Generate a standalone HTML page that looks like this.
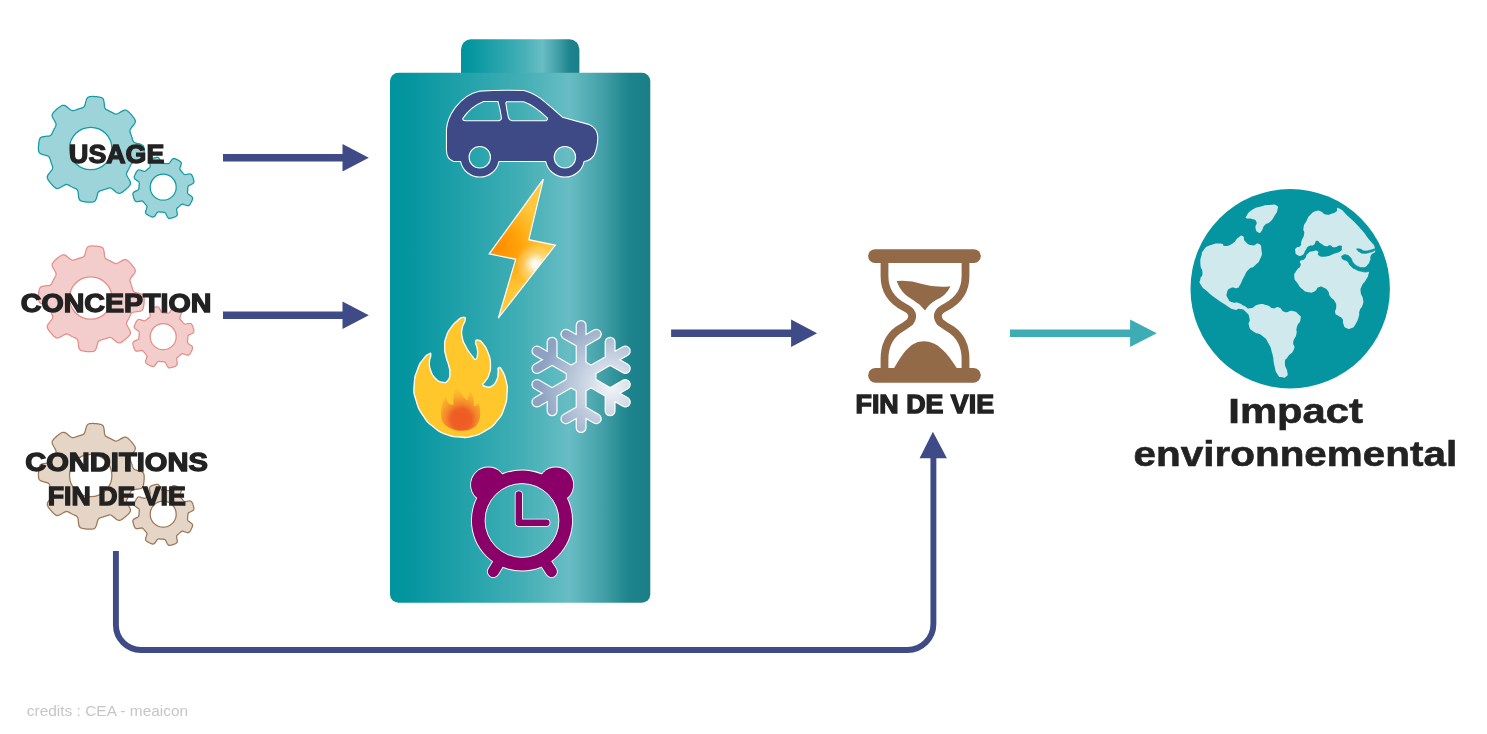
<!DOCTYPE html>
<html><head><meta charset="utf-8"><title>Diagram</title>
<style>
html,body{margin:0;padding:0;background:#fff;}
body{width:1487px;height:734px;overflow:hidden;font-family:"Liberation Sans",sans-serif;}
svg{display:block;transform:translateZ(0);will-change:transform}
text{font-family:"Liberation Sans",sans-serif;}
.b{font-weight:bold;fill:#222222;stroke:#222222;stroke-width:1.3px;stroke-linejoin:miter;stroke-miterlimit:3;paint-order:stroke}
.b2{stroke-width:0.6px}
</style></head><body>
<svg width="1487" height="734" viewBox="0 0 1487 734">
<defs>
<linearGradient id="bat" x1="0" y1="0" x2="1" y2="0">
<stop offset="0" stop-color="#00949d"/>
<stop offset="0.08" stop-color="#0596a0"/>
<stop offset="0.33" stop-color="#28a4ac"/>
<stop offset="0.50" stop-color="#42aeb5"/>
<stop offset="0.69" stop-color="#68bdc4"/>
<stop offset="0.82" stop-color="#429fa7"/>
<stop offset="0.92" stop-color="#1d838c"/>
<stop offset="1" stop-color="#1b7f88"/>
</linearGradient>
<radialGradient id="boltg" gradientUnits="userSpaceOnUse" cx="497" cy="246" r="50">
<stop offset="0" stop-color="#ff8c00"/>
<stop offset="0.45" stop-color="#ffa30a"/>
<stop offset="0.8" stop-color="#ffbd2c"/>
<stop offset="1" stop-color="#ffc83c"/>
</radialGradient>
<radialGradient id="bolth" gradientUnits="userSpaceOnUse" cx="535.5" cy="264" r="20">
<stop offset="0" stop-color="#ffffff" stop-opacity="1"/>
<stop offset="0.2" stop-color="#ffffff" stop-opacity="0.85"/>
<stop offset="0.6" stop-color="#fff3d0" stop-opacity="0.35"/>
<stop offset="1" stop-color="#ffffff" stop-opacity="0"/>
</radialGradient>
<radialGradient id="snow" gradientUnits="userSpaceOnUse" cx="611" cy="387" r="72">
<stop offset="0" stop-color="#f2f5f9"/>
<stop offset="0.4" stop-color="#c9d4e3"/>
<stop offset="1" stop-color="#8da2c1"/>
</radialGradient>
<radialGradient id="fire" gradientUnits="userSpaceOnUse" cx="295" cy="598" r="150">
<stop offset="0" stop-color="#ee5a24"/>
<stop offset="0.36" stop-color="#ef5f26"/>
<stop offset="0.52" stop-color="#f4832a"/>
<stop offset="0.78" stop-color="#f9a92c"/>
<stop offset="1" stop-color="#fdbe2c"/>
</radialGradient>
</defs>

<!-- gears -->
<g fill="#9cd4d9" stroke="#109ba5" stroke-width="1.25" fill-rule="evenodd"><path d="M91.3,96.5 L92.0,96.4 L92.7,96.4 L93.4,96.4 L94.1,96.5 L94.8,96.5 L95.5,96.6 L96.1,96.6 L96.8,96.7 L97.5,96.8 L98.2,96.9 L98.9,97.0 L99.6,97.1 L100.2,97.3 L100.9,97.4 L101.6,97.7 L102.2,98.0 L102.8,98.5 L103.3,99.2 L103.7,100.3 L104.0,101.8 L104.2,103.5 L104.4,105.2 L104.5,106.7 L104.8,107.7 L105.2,108.5 L105.6,109.0 L106.0,109.4 L106.5,109.7 L107.0,109.9 L107.5,110.2 L108.0,110.4 L108.5,110.6 L109.0,110.9 L109.5,111.1 L110.0,111.4 L110.5,111.6 L111.0,111.9 L111.5,112.1 L112.0,112.4 L112.5,112.7 L112.9,112.9 L113.4,113.2 L113.9,113.4 L114.4,113.7 L115.0,113.9 L115.5,114.0 L116.2,114.1 L117.0,113.9 L118.0,113.5 L119.3,112.8 L120.8,111.9 L122.3,111.1 L123.6,110.4 L124.7,110.2 L125.6,110.1 L126.4,110.3 L127.0,110.7 L127.6,111.0 L128.1,111.5 L128.7,111.9 L129.2,112.4 L129.7,112.9 L130.1,113.4 L130.6,113.9 L131.1,114.4 L131.5,114.9 L132.0,115.5 L132.4,116.0 L132.8,116.6 L133.3,117.1 L133.7,117.7 L134.1,118.2 L134.4,118.8 L134.8,119.4 L135.1,120.1 L135.3,120.7 L135.3,121.5 L135.2,122.4 L134.7,123.5 L133.9,124.7 L132.8,126.0 L131.7,127.4 L130.8,128.5 L130.3,129.5 L130.0,130.2 L129.9,130.9 L130.0,131.5 L130.1,132.0 L130.3,132.6 L130.4,133.1 L130.6,133.6 L130.8,134.1 L131.0,134.7 L131.2,135.2 L131.4,135.7 L131.5,136.2 L131.7,136.8 L131.9,137.3 L132.0,137.8 L132.2,138.3 L132.3,138.9 L132.5,139.4 L132.7,139.9 L132.8,140.5 L133.1,141.0 L133.4,141.5 L133.8,142.0 L134.5,142.5 L135.5,142.9 L136.9,143.3 L138.6,143.7 L140.2,144.2 L141.6,144.7 L142.6,145.3 L143.3,145.9 L143.6,146.6 L143.9,147.2 L144.0,147.9 L144.1,148.6 L144.1,149.3 L144.2,150.0 L144.2,150.7 L144.2,151.4 L144.1,152.1 L144.1,152.8 L144.0,153.5 L144.0,154.1 L143.9,154.8 L143.8,155.5 L143.7,156.2 L143.6,156.9 L143.5,157.6 L143.3,158.2 L143.2,158.9 L142.9,159.6 L142.6,160.2 L142.1,160.8 L141.4,161.3 L140.3,161.7 L138.8,162.0 L137.1,162.2 L135.4,162.4 L133.9,162.5 L132.9,162.8 L132.1,163.2 L131.6,163.6 L131.2,164.0 L130.9,164.5 L130.7,165.0 L130.4,165.5 L130.2,166.0 L130.0,166.5 L129.7,167.0 L129.5,167.5 L129.2,168.0 L129.0,168.5 L128.7,169.0 L128.5,169.5 L128.2,170.0 L127.9,170.5 L127.7,170.9 L127.4,171.4 L127.2,171.9 L126.9,172.4 L126.7,173.0 L126.6,173.5 L126.5,174.2 L126.7,175.0 L127.1,176.0 L127.8,177.3 L128.7,178.8 L129.5,180.3 L130.2,181.6 L130.4,182.7 L130.5,183.6 L130.3,184.4 L129.9,185.0 L129.6,185.6 L129.1,186.1 L128.7,186.7 L128.2,187.2 L127.7,187.7 L127.2,188.1 L126.7,188.6 L126.2,189.1 L125.7,189.5 L125.1,190.0 L124.6,190.4 L124.0,190.8 L123.5,191.3 L122.9,191.7 L122.4,192.1 L121.8,192.4 L121.2,192.8 L120.5,193.1 L119.9,193.3 L119.1,193.3 L118.2,193.2 L117.1,192.7 L115.9,191.9 L114.6,190.8 L113.2,189.7 L112.1,188.8 L111.1,188.3 L110.4,188.0 L109.7,187.9 L109.1,188.0 L108.6,188.1 L108.0,188.3 L107.5,188.4 L107.0,188.6 L106.5,188.8 L105.9,189.0 L105.4,189.2 L104.9,189.4 L104.4,189.5 L103.8,189.7 L103.3,189.9 L102.8,190.0 L102.3,190.2 L101.7,190.3 L101.2,190.5 L100.7,190.7 L100.1,190.8 L99.6,191.1 L99.1,191.4 L98.6,191.8 L98.1,192.5 L97.7,193.5 L97.3,194.9 L96.9,196.6 L96.4,198.2 L95.9,199.6 L95.3,200.6 L94.7,201.3 L94.0,201.6 L93.4,201.9 L92.7,202.0 L92.0,202.1 L91.3,202.1 L90.6,202.2 L89.9,202.2 L89.2,202.2 L88.5,202.1 L87.8,202.1 L87.1,202.0 L86.5,202.0 L85.8,201.9 L85.1,201.8 L84.4,201.7 L83.7,201.6 L83.0,201.5 L82.4,201.3 L81.7,201.2 L81.0,200.9 L80.4,200.6 L79.8,200.1 L79.3,199.4 L78.9,198.3 L78.6,196.8 L78.4,195.1 L78.2,193.4 L78.1,191.9 L77.8,190.9 L77.4,190.1 L77.0,189.6 L76.6,189.2 L76.1,188.9 L75.6,188.7 L75.1,188.4 L74.6,188.2 L74.1,188.0 L73.6,187.7 L73.1,187.5 L72.6,187.2 L72.1,187.0 L71.6,186.7 L71.1,186.5 L70.6,186.2 L70.1,185.9 L69.7,185.7 L69.2,185.4 L68.7,185.2 L68.2,184.9 L67.6,184.7 L67.1,184.6 L66.4,184.5 L65.6,184.7 L64.6,185.1 L63.3,185.8 L61.8,186.7 L60.3,187.5 L59.0,188.2 L57.9,188.4 L57.0,188.5 L56.2,188.3 L55.6,187.9 L55.0,187.6 L54.5,187.1 L53.9,186.7 L53.4,186.2 L52.9,185.7 L52.5,185.2 L52.0,184.7 L51.5,184.2 L51.1,183.7 L50.6,183.1 L50.2,182.6 L49.8,182.0 L49.3,181.5 L48.9,180.9 L48.5,180.4 L48.2,179.8 L47.8,179.2 L47.5,178.5 L47.3,177.9 L47.3,177.1 L47.4,176.2 L47.9,175.1 L48.7,173.9 L49.8,172.6 L50.9,171.2 L51.8,170.1 L52.3,169.1 L52.6,168.4 L52.7,167.7 L52.6,167.1 L52.5,166.6 L52.3,166.0 L52.2,165.5 L52.0,165.0 L51.8,164.5 L51.6,163.9 L51.4,163.4 L51.2,162.9 L51.1,162.4 L50.9,161.8 L50.7,161.3 L50.6,160.8 L50.4,160.3 L50.3,159.7 L50.1,159.2 L49.9,158.7 L49.8,158.1 L49.5,157.6 L49.2,157.1 L48.8,156.6 L48.1,156.1 L47.1,155.7 L45.7,155.3 L44.0,154.9 L42.4,154.4 L41.0,153.9 L40.0,153.3 L39.3,152.7 L39.0,152.0 L38.7,151.4 L38.6,150.7 L38.5,150.0 L38.5,149.3 L38.4,148.6 L38.4,147.9 L38.4,147.2 L38.5,146.5 L38.5,145.8 L38.6,145.1 L38.6,144.5 L38.7,143.8 L38.8,143.1 L38.9,142.4 L39.0,141.7 L39.1,141.0 L39.3,140.4 L39.4,139.7 L39.7,139.0 L40.0,138.4 L40.5,137.8 L41.2,137.3 L42.3,136.9 L43.8,136.6 L45.5,136.4 L47.2,136.2 L48.7,136.1 L49.7,135.8 L50.5,135.4 L51.0,135.0 L51.4,134.6 L51.7,134.1 L51.9,133.6 L52.2,133.1 L52.4,132.6 L52.6,132.1 L52.9,131.6 L53.1,131.1 L53.4,130.6 L53.6,130.1 L53.9,129.6 L54.1,129.1 L54.4,128.6 L54.7,128.1 L54.9,127.7 L55.2,127.2 L55.4,126.7 L55.7,126.2 L55.9,125.6 L56.0,125.1 L56.1,124.4 L55.9,123.6 L55.5,122.6 L54.8,121.3 L53.9,119.8 L53.1,118.3 L52.4,117.0 L52.2,115.9 L52.1,115.0 L52.3,114.2 L52.7,113.6 L53.0,113.0 L53.5,112.5 L53.9,111.9 L54.4,111.4 L54.9,110.9 L55.4,110.5 L55.9,110.0 L56.4,109.5 L56.9,109.1 L57.5,108.6 L58.0,108.2 L58.6,107.8 L59.1,107.3 L59.7,106.9 L60.2,106.5 L60.8,106.2 L61.4,105.8 L62.1,105.5 L62.7,105.3 L63.5,105.3 L64.4,105.4 L65.5,105.9 L66.7,106.7 L68.0,107.8 L69.4,108.9 L70.5,109.8 L71.5,110.3 L72.2,110.6 L72.9,110.7 L73.5,110.6 L74.0,110.5 L74.6,110.3 L75.1,110.2 L75.6,110.0 L76.1,109.8 L76.7,109.6 L77.2,109.4 L77.7,109.2 L78.2,109.1 L78.8,108.9 L79.3,108.7 L79.8,108.6 L80.3,108.4 L80.9,108.3 L81.4,108.1 L81.9,107.9 L82.5,107.8 L83.0,107.5 L83.5,107.2 L84.0,106.8 L84.5,106.1 L84.9,105.1 L85.3,103.7 L85.7,102.0 L86.2,100.4 L86.7,99.0 L87.3,98.0 L87.9,97.3 L88.6,97.0 L89.2,96.7 L89.9,96.6 L90.6,96.5Z M111.9,148.5 a21.2,21.2 0 1,0 -42.4,0 a21.2,21.2 0 1,0 42.4,0Z"/><path d="M163.4,163.4 L163.7,163.4 L164.0,163.4 L164.4,163.4 L164.7,163.4 L165.0,163.5 L165.3,163.5 L165.6,163.5 L166.0,163.5 L166.3,163.6 L166.6,163.6 L166.9,163.6 L167.2,163.7 L167.5,163.7 L167.9,163.7 L168.2,163.7 L168.5,163.6 L168.9,163.5 L169.3,163.2 L169.8,162.7 L170.3,161.9 L171.0,161.0 L171.6,160.1 L172.2,159.4 L172.8,158.9 L173.3,158.7 L173.7,158.6 L174.2,158.6 L174.6,158.7 L175.0,158.8 L175.4,158.9 L175.7,159.1 L176.1,159.2 L176.5,159.4 L176.9,159.6 L177.2,159.7 L177.6,159.9 L178.0,160.1 L178.3,160.3 L178.7,160.5 L179.0,160.7 L179.4,160.9 L179.7,161.1 L180.1,161.4 L180.4,161.6 L180.7,161.9 L181.0,162.3 L181.2,162.7 L181.3,163.2 L181.2,163.9 L181.0,164.9 L180.6,165.9 L180.3,167.0 L180.0,167.9 L179.8,168.5 L179.8,169.1 L179.9,169.4 L180.1,169.7 L180.3,170.0 L180.5,170.3 L180.7,170.5 L180.9,170.8 L181.1,171.0 L181.3,171.2 L181.5,171.5 L181.7,171.7 L182.0,172.0 L182.2,172.2 L182.4,172.4 L182.6,172.7 L182.8,172.9 L183.0,173.2 L183.2,173.4 L183.4,173.7 L183.6,173.9 L183.8,174.1 L184.1,174.3 L184.5,174.5 L185.0,174.6 L185.7,174.5 L186.6,174.4 L187.7,174.2 L188.8,174.0 L189.7,173.9 L190.5,174.0 L191.0,174.2 L191.4,174.5 L191.7,174.8 L191.9,175.1 L192.1,175.5 L192.3,175.8 L192.5,176.2 L192.6,176.6 L192.8,177.0 L192.9,177.4 L193.0,177.7 L193.2,178.1 L193.3,178.5 L193.4,178.9 L193.5,179.3 L193.6,179.7 L193.7,180.1 L193.8,180.5 L193.9,180.9 L193.9,181.3 L193.9,181.7 L193.9,182.2 L193.7,182.6 L193.4,183.0 L192.9,183.5 L192.1,184.0 L191.1,184.5 L190.1,185.0 L189.2,185.4 L188.6,185.8 L188.3,186.2 L188.1,186.5 L188.0,186.8 L187.9,187.2 L187.9,187.5 L187.8,187.8 L187.8,188.1 L187.8,188.4 L187.8,188.8 L187.8,189.1 L187.7,189.4 L187.7,189.7 L187.7,190.0 L187.7,190.4 L187.6,190.7 L187.6,191.0 L187.6,191.3 L187.5,191.6 L187.5,191.9 L187.5,192.3 L187.5,192.6 L187.6,192.9 L187.7,193.3 L188.0,193.7 L188.5,194.2 L189.3,194.7 L190.2,195.4 L191.1,196.0 L191.8,196.6 L192.3,197.2 L192.5,197.7 L192.6,198.1 L192.6,198.6 L192.5,199.0 L192.4,199.4 L192.3,199.8 L192.1,200.1 L192.0,200.5 L191.8,200.9 L191.6,201.3 L191.5,201.6 L191.3,202.0 L191.1,202.4 L190.9,202.7 L190.7,203.1 L190.5,203.4 L190.3,203.8 L190.1,204.1 L189.8,204.5 L189.6,204.8 L189.3,205.1 L188.9,205.4 L188.5,205.6 L188.0,205.7 L187.3,205.6 L186.3,205.4 L185.3,205.0 L184.2,204.7 L183.3,204.4 L182.7,204.2 L182.1,204.2 L181.8,204.3 L181.5,204.5 L181.2,204.7 L180.9,204.9 L180.7,205.1 L180.4,205.3 L180.2,205.5 L180.0,205.7 L179.7,205.9 L179.5,206.1 L179.2,206.4 L179.0,206.6 L178.8,206.8 L178.5,207.0 L178.3,207.2 L178.0,207.4 L177.8,207.6 L177.5,207.8 L177.3,208.0 L177.1,208.2 L176.9,208.5 L176.7,208.9 L176.6,209.4 L176.7,210.1 L176.8,211.0 L177.0,212.1 L177.2,213.2 L177.3,214.1 L177.2,214.9 L177.0,215.4 L176.7,215.8 L176.4,216.1 L176.1,216.3 L175.7,216.5 L175.4,216.7 L175.0,216.9 L174.6,217.0 L174.2,217.2 L173.8,217.3 L173.5,217.4 L173.1,217.6 L172.7,217.7 L172.3,217.8 L171.9,217.9 L171.5,218.0 L171.1,218.1 L170.7,218.2 L170.3,218.3 L169.9,218.3 L169.5,218.3 L169.0,218.3 L168.6,218.1 L168.2,217.8 L167.7,217.3 L167.2,216.5 L166.7,215.5 L166.2,214.5 L165.8,213.6 L165.4,213.0 L165.0,212.7 L164.7,212.5 L164.4,212.4 L164.0,212.3 L163.7,212.3 L163.4,212.2 L163.1,212.2 L162.8,212.2 L162.4,212.2 L162.1,212.2 L161.8,212.1 L161.5,212.1 L161.2,212.1 L160.8,212.1 L160.5,212.0 L160.2,212.0 L159.9,212.0 L159.6,211.9 L159.3,211.9 L158.9,211.9 L158.6,211.9 L158.3,212.0 L157.9,212.1 L157.5,212.4 L157.0,212.9 L156.5,213.7 L155.8,214.6 L155.2,215.5 L154.6,216.2 L154.0,216.7 L153.5,216.9 L153.1,217.0 L152.6,217.0 L152.2,216.9 L151.8,216.8 L151.4,216.7 L151.1,216.5 L150.7,216.4 L150.3,216.2 L149.9,216.0 L149.6,215.9 L149.2,215.7 L148.8,215.5 L148.5,215.3 L148.1,215.1 L147.8,214.9 L147.4,214.7 L147.1,214.5 L146.7,214.2 L146.4,214.0 L146.1,213.7 L145.8,213.3 L145.6,212.9 L145.5,212.4 L145.6,211.7 L145.8,210.7 L146.2,209.7 L146.5,208.6 L146.8,207.7 L147.0,207.1 L147.0,206.5 L146.9,206.2 L146.7,205.9 L146.5,205.6 L146.3,205.3 L146.1,205.1 L145.9,204.8 L145.7,204.6 L145.5,204.4 L145.3,204.1 L145.1,203.9 L144.8,203.6 L144.6,203.4 L144.4,203.2 L144.2,202.9 L144.0,202.7 L143.8,202.4 L143.6,202.2 L143.4,201.9 L143.2,201.7 L143.0,201.5 L142.7,201.3 L142.3,201.1 L141.8,201.0 L141.1,201.1 L140.2,201.2 L139.1,201.4 L138.0,201.6 L137.1,201.7 L136.3,201.6 L135.8,201.4 L135.4,201.1 L135.1,200.8 L134.9,200.5 L134.7,200.1 L134.5,199.8 L134.3,199.4 L134.2,199.0 L134.0,198.6 L133.9,198.2 L133.8,197.9 L133.6,197.5 L133.5,197.1 L133.4,196.7 L133.3,196.3 L133.2,195.9 L133.1,195.5 L133.0,195.1 L132.9,194.7 L132.9,194.3 L132.9,193.9 L132.9,193.4 L133.1,193.0 L133.4,192.6 L133.9,192.1 L134.7,191.6 L135.7,191.1 L136.7,190.6 L137.6,190.2 L138.2,189.8 L138.5,189.4 L138.7,189.1 L138.8,188.8 L138.9,188.4 L138.9,188.1 L139.0,187.8 L139.0,187.5 L139.0,187.2 L139.0,186.8 L139.0,186.5 L139.1,186.2 L139.1,185.9 L139.1,185.6 L139.1,185.2 L139.2,184.9 L139.2,184.6 L139.2,184.3 L139.3,184.0 L139.3,183.7 L139.3,183.3 L139.3,183.0 L139.2,182.7 L139.1,182.3 L138.8,181.9 L138.3,181.4 L137.5,180.9 L136.6,180.2 L135.7,179.6 L135.0,179.0 L134.5,178.4 L134.3,177.9 L134.2,177.5 L134.2,177.0 L134.3,176.6 L134.4,176.2 L134.5,175.8 L134.7,175.5 L134.8,175.1 L135.0,174.7 L135.2,174.3 L135.3,174.0 L135.5,173.6 L135.7,173.2 L135.9,172.9 L136.1,172.5 L136.3,172.2 L136.5,171.8 L136.7,171.5 L137.0,171.1 L137.2,170.8 L137.5,170.5 L137.9,170.2 L138.3,170.0 L138.8,169.9 L139.5,170.0 L140.5,170.2 L141.5,170.6 L142.6,170.9 L143.5,171.2 L144.1,171.4 L144.7,171.4 L145.0,171.3 L145.3,171.1 L145.6,170.9 L145.9,170.7 L146.1,170.5 L146.4,170.3 L146.6,170.1 L146.8,169.9 L147.1,169.7 L147.3,169.5 L147.6,169.2 L147.8,169.0 L148.0,168.8 L148.3,168.6 L148.5,168.4 L148.8,168.2 L149.0,168.0 L149.3,167.8 L149.5,167.6 L149.7,167.4 L149.9,167.1 L150.1,166.7 L150.2,166.2 L150.1,165.5 L150.0,164.6 L149.8,163.5 L149.6,162.4 L149.5,161.5 L149.6,160.7 L149.8,160.2 L150.1,159.8 L150.4,159.5 L150.7,159.3 L151.1,159.1 L151.4,158.9 L151.8,158.7 L152.2,158.6 L152.6,158.4 L153.0,158.3 L153.3,158.2 L153.7,158.0 L154.1,157.9 L154.5,157.8 L154.9,157.7 L155.3,157.6 L155.7,157.5 L156.1,157.4 L156.5,157.3 L156.9,157.3 L157.3,157.3 L157.8,157.3 L158.2,157.5 L158.6,157.8 L159.1,158.3 L159.6,159.1 L160.1,160.1 L160.6,161.1 L161.0,162.0 L161.4,162.6 L161.8,162.9 L162.1,163.1 L162.4,163.2 L162.8,163.3 L163.1,163.3Z M176.2,187.2 a13,13 0 1,0 -26,0 a13,13 0 1,0 26,0Z"/></g>
<g fill="#f2cdcb" stroke="#e58e88" stroke-width="1.25" fill-rule="evenodd"><path d="M91.3,246.0 L92.0,245.9 L92.7,245.9 L93.4,245.9 L94.1,246.0 L94.8,246.0 L95.5,246.1 L96.1,246.1 L96.8,246.2 L97.5,246.3 L98.2,246.4 L98.9,246.5 L99.6,246.6 L100.2,246.8 L100.9,246.9 L101.6,247.2 L102.2,247.5 L102.8,248.0 L103.3,248.7 L103.7,249.8 L104.0,251.3 L104.2,253.0 L104.4,254.7 L104.5,256.2 L104.8,257.2 L105.2,258.0 L105.6,258.5 L106.0,258.9 L106.5,259.2 L107.0,259.4 L107.5,259.7 L108.0,259.9 L108.5,260.1 L109.0,260.4 L109.5,260.6 L110.0,260.9 L110.5,261.1 L111.0,261.4 L111.5,261.6 L112.0,261.9 L112.5,262.2 L112.9,262.4 L113.4,262.7 L113.9,262.9 L114.4,263.2 L115.0,263.4 L115.5,263.5 L116.2,263.6 L117.0,263.4 L118.0,263.0 L119.3,262.3 L120.8,261.4 L122.3,260.6 L123.6,259.9 L124.7,259.7 L125.6,259.6 L126.4,259.8 L127.0,260.2 L127.6,260.5 L128.1,261.0 L128.7,261.4 L129.2,261.9 L129.7,262.4 L130.1,262.9 L130.6,263.4 L131.1,263.9 L131.5,264.4 L132.0,265.0 L132.4,265.5 L132.8,266.1 L133.3,266.6 L133.7,267.2 L134.1,267.7 L134.4,268.3 L134.8,268.9 L135.1,269.6 L135.3,270.2 L135.3,271.0 L135.2,271.9 L134.7,273.0 L133.9,274.2 L132.8,275.5 L131.7,276.9 L130.8,278.0 L130.3,279.0 L130.0,279.7 L129.9,280.4 L130.0,281.0 L130.1,281.5 L130.3,282.1 L130.4,282.6 L130.6,283.1 L130.8,283.6 L131.0,284.2 L131.2,284.7 L131.4,285.2 L131.5,285.7 L131.7,286.3 L131.9,286.8 L132.0,287.3 L132.2,287.8 L132.3,288.4 L132.5,288.9 L132.7,289.4 L132.8,290.0 L133.1,290.5 L133.4,291.0 L133.8,291.5 L134.5,292.0 L135.5,292.4 L136.9,292.8 L138.6,293.2 L140.2,293.7 L141.6,294.2 L142.6,294.8 L143.3,295.4 L143.6,296.1 L143.9,296.7 L144.0,297.4 L144.1,298.1 L144.1,298.8 L144.2,299.5 L144.2,300.2 L144.2,300.9 L144.1,301.6 L144.1,302.3 L144.0,303.0 L144.0,303.6 L143.9,304.3 L143.8,305.0 L143.7,305.7 L143.6,306.4 L143.5,307.1 L143.3,307.7 L143.2,308.4 L142.9,309.1 L142.6,309.7 L142.1,310.3 L141.4,310.8 L140.3,311.2 L138.8,311.5 L137.1,311.7 L135.4,311.9 L133.9,312.0 L132.9,312.3 L132.1,312.7 L131.6,313.1 L131.2,313.5 L130.9,314.0 L130.7,314.5 L130.4,315.0 L130.2,315.5 L130.0,316.0 L129.7,316.5 L129.5,317.0 L129.2,317.5 L129.0,318.0 L128.7,318.5 L128.5,319.0 L128.2,319.5 L127.9,320.0 L127.7,320.4 L127.4,320.9 L127.2,321.4 L126.9,321.9 L126.7,322.5 L126.6,323.0 L126.5,323.7 L126.7,324.5 L127.1,325.5 L127.8,326.8 L128.7,328.3 L129.5,329.8 L130.2,331.1 L130.4,332.2 L130.5,333.1 L130.3,333.9 L129.9,334.5 L129.6,335.1 L129.1,335.6 L128.7,336.2 L128.2,336.7 L127.7,337.2 L127.2,337.6 L126.7,338.1 L126.2,338.6 L125.7,339.0 L125.1,339.5 L124.6,339.9 L124.0,340.3 L123.5,340.8 L122.9,341.2 L122.4,341.6 L121.8,341.9 L121.2,342.3 L120.5,342.6 L119.9,342.8 L119.1,342.8 L118.2,342.7 L117.1,342.2 L115.9,341.4 L114.6,340.3 L113.2,339.2 L112.1,338.3 L111.1,337.8 L110.4,337.5 L109.7,337.4 L109.1,337.5 L108.6,337.6 L108.0,337.8 L107.5,337.9 L107.0,338.1 L106.5,338.3 L105.9,338.5 L105.4,338.7 L104.9,338.9 L104.4,339.0 L103.8,339.2 L103.3,339.4 L102.8,339.5 L102.3,339.7 L101.7,339.8 L101.2,340.0 L100.7,340.2 L100.1,340.3 L99.6,340.6 L99.1,340.9 L98.6,341.3 L98.1,342.0 L97.7,343.0 L97.3,344.4 L96.9,346.1 L96.4,347.7 L95.9,349.1 L95.3,350.1 L94.7,350.8 L94.0,351.1 L93.4,351.4 L92.7,351.5 L92.0,351.6 L91.3,351.6 L90.6,351.7 L89.9,351.7 L89.2,351.7 L88.5,351.6 L87.8,351.6 L87.1,351.5 L86.5,351.5 L85.8,351.4 L85.1,351.3 L84.4,351.2 L83.7,351.1 L83.0,351.0 L82.4,350.8 L81.7,350.7 L81.0,350.4 L80.4,350.1 L79.8,349.6 L79.3,348.9 L78.9,347.8 L78.6,346.3 L78.4,344.6 L78.2,342.9 L78.1,341.4 L77.8,340.4 L77.4,339.6 L77.0,339.1 L76.6,338.7 L76.1,338.4 L75.6,338.2 L75.1,337.9 L74.6,337.7 L74.1,337.5 L73.6,337.2 L73.1,337.0 L72.6,336.7 L72.1,336.5 L71.6,336.2 L71.1,336.0 L70.6,335.7 L70.1,335.4 L69.7,335.2 L69.2,334.9 L68.7,334.7 L68.2,334.4 L67.6,334.2 L67.1,334.1 L66.4,334.0 L65.6,334.2 L64.6,334.6 L63.3,335.3 L61.8,336.2 L60.3,337.0 L59.0,337.7 L57.9,337.9 L57.0,338.0 L56.2,337.8 L55.6,337.4 L55.0,337.1 L54.5,336.6 L53.9,336.2 L53.4,335.7 L52.9,335.2 L52.5,334.7 L52.0,334.2 L51.5,333.7 L51.1,333.2 L50.6,332.6 L50.2,332.1 L49.8,331.5 L49.3,331.0 L48.9,330.4 L48.5,329.9 L48.2,329.3 L47.8,328.7 L47.5,328.0 L47.3,327.4 L47.3,326.6 L47.4,325.7 L47.9,324.6 L48.7,323.4 L49.8,322.1 L50.9,320.7 L51.8,319.6 L52.3,318.6 L52.6,317.9 L52.7,317.2 L52.6,316.6 L52.5,316.1 L52.3,315.5 L52.2,315.0 L52.0,314.5 L51.8,314.0 L51.6,313.4 L51.4,312.9 L51.2,312.4 L51.1,311.9 L50.9,311.3 L50.7,310.8 L50.6,310.3 L50.4,309.8 L50.3,309.2 L50.1,308.7 L49.9,308.2 L49.8,307.6 L49.5,307.1 L49.2,306.6 L48.8,306.1 L48.1,305.6 L47.1,305.2 L45.7,304.8 L44.0,304.4 L42.4,303.9 L41.0,303.4 L40.0,302.8 L39.3,302.2 L39.0,301.5 L38.7,300.9 L38.6,300.2 L38.5,299.5 L38.5,298.8 L38.4,298.1 L38.4,297.4 L38.4,296.7 L38.5,296.0 L38.5,295.3 L38.6,294.6 L38.6,294.0 L38.7,293.3 L38.8,292.6 L38.9,291.9 L39.0,291.2 L39.1,290.5 L39.3,289.9 L39.4,289.2 L39.7,288.5 L40.0,287.9 L40.5,287.3 L41.2,286.8 L42.3,286.4 L43.8,286.1 L45.5,285.9 L47.2,285.7 L48.7,285.6 L49.7,285.3 L50.5,284.9 L51.0,284.5 L51.4,284.1 L51.7,283.6 L51.9,283.1 L52.2,282.6 L52.4,282.1 L52.6,281.6 L52.9,281.1 L53.1,280.6 L53.4,280.1 L53.6,279.6 L53.9,279.1 L54.1,278.6 L54.4,278.1 L54.7,277.6 L54.9,277.2 L55.2,276.7 L55.4,276.2 L55.7,275.7 L55.9,275.1 L56.0,274.6 L56.1,273.9 L55.9,273.1 L55.5,272.1 L54.8,270.8 L53.9,269.3 L53.1,267.8 L52.4,266.5 L52.2,265.4 L52.1,264.5 L52.3,263.7 L52.7,263.1 L53.0,262.5 L53.5,262.0 L53.9,261.4 L54.4,260.9 L54.9,260.4 L55.4,260.0 L55.9,259.5 L56.4,259.0 L56.9,258.6 L57.5,258.1 L58.0,257.7 L58.6,257.3 L59.1,256.8 L59.7,256.4 L60.2,256.0 L60.8,255.7 L61.4,255.3 L62.1,255.0 L62.7,254.8 L63.5,254.8 L64.4,254.9 L65.5,255.4 L66.7,256.2 L68.0,257.3 L69.4,258.4 L70.5,259.3 L71.5,259.8 L72.2,260.1 L72.9,260.2 L73.5,260.1 L74.0,260.0 L74.6,259.8 L75.1,259.7 L75.6,259.5 L76.1,259.3 L76.7,259.1 L77.2,258.9 L77.7,258.7 L78.2,258.6 L78.8,258.4 L79.3,258.2 L79.8,258.1 L80.3,257.9 L80.9,257.8 L81.4,257.6 L81.9,257.4 L82.5,257.3 L83.0,257.0 L83.5,256.7 L84.0,256.3 L84.5,255.6 L84.9,254.6 L85.3,253.2 L85.7,251.5 L86.2,249.9 L86.7,248.5 L87.3,247.5 L87.9,246.8 L88.6,246.5 L89.2,246.2 L89.9,246.1 L90.6,246.0Z M111.9,298.0 a21.2,21.2 0 1,0 -42.4,0 a21.2,21.2 0 1,0 42.4,0Z"/><path d="M163.4,312.9 L163.7,312.9 L164.0,312.9 L164.4,312.9 L164.7,312.9 L165.0,313.0 L165.3,313.0 L165.6,313.0 L166.0,313.0 L166.3,313.1 L166.6,313.1 L166.9,313.1 L167.2,313.2 L167.5,313.2 L167.9,313.2 L168.2,313.2 L168.5,313.1 L168.9,313.0 L169.3,312.7 L169.8,312.2 L170.3,311.4 L171.0,310.5 L171.6,309.6 L172.2,308.9 L172.8,308.4 L173.3,308.2 L173.7,308.1 L174.2,308.1 L174.6,308.2 L175.0,308.3 L175.4,308.4 L175.7,308.6 L176.1,308.7 L176.5,308.9 L176.9,309.1 L177.2,309.2 L177.6,309.4 L178.0,309.6 L178.3,309.8 L178.7,310.0 L179.0,310.2 L179.4,310.4 L179.7,310.6 L180.1,310.9 L180.4,311.1 L180.7,311.4 L181.0,311.8 L181.2,312.2 L181.3,312.7 L181.2,313.4 L181.0,314.4 L180.6,315.4 L180.3,316.5 L180.0,317.4 L179.8,318.0 L179.8,318.6 L179.9,318.9 L180.1,319.2 L180.3,319.5 L180.5,319.8 L180.7,320.0 L180.9,320.3 L181.1,320.5 L181.3,320.7 L181.5,321.0 L181.7,321.2 L182.0,321.5 L182.2,321.7 L182.4,321.9 L182.6,322.2 L182.8,322.4 L183.0,322.7 L183.2,322.9 L183.4,323.2 L183.6,323.4 L183.8,323.6 L184.1,323.8 L184.5,324.0 L185.0,324.1 L185.7,324.0 L186.6,323.9 L187.7,323.7 L188.8,323.5 L189.7,323.4 L190.5,323.5 L191.0,323.7 L191.4,324.0 L191.7,324.3 L191.9,324.6 L192.1,325.0 L192.3,325.3 L192.5,325.7 L192.6,326.1 L192.8,326.5 L192.9,326.9 L193.0,327.2 L193.2,327.6 L193.3,328.0 L193.4,328.4 L193.5,328.8 L193.6,329.2 L193.7,329.6 L193.8,330.0 L193.9,330.4 L193.9,330.8 L193.9,331.2 L193.9,331.7 L193.7,332.1 L193.4,332.5 L192.9,333.0 L192.1,333.5 L191.1,334.0 L190.1,334.5 L189.2,334.9 L188.6,335.3 L188.3,335.7 L188.1,336.0 L188.0,336.3 L187.9,336.7 L187.9,337.0 L187.8,337.3 L187.8,337.6 L187.8,337.9 L187.8,338.3 L187.8,338.6 L187.7,338.9 L187.7,339.2 L187.7,339.5 L187.7,339.9 L187.6,340.2 L187.6,340.5 L187.6,340.8 L187.5,341.1 L187.5,341.4 L187.5,341.8 L187.5,342.1 L187.6,342.4 L187.7,342.8 L188.0,343.2 L188.5,343.7 L189.3,344.2 L190.2,344.9 L191.1,345.5 L191.8,346.1 L192.3,346.7 L192.5,347.2 L192.6,347.6 L192.6,348.1 L192.5,348.5 L192.4,348.9 L192.3,349.3 L192.1,349.6 L192.0,350.0 L191.8,350.4 L191.6,350.8 L191.5,351.1 L191.3,351.5 L191.1,351.9 L190.9,352.2 L190.7,352.6 L190.5,352.9 L190.3,353.3 L190.1,353.6 L189.8,354.0 L189.6,354.3 L189.3,354.6 L188.9,354.9 L188.5,355.1 L188.0,355.2 L187.3,355.1 L186.3,354.9 L185.3,354.5 L184.2,354.2 L183.3,353.9 L182.7,353.7 L182.1,353.7 L181.8,353.8 L181.5,354.0 L181.2,354.2 L180.9,354.4 L180.7,354.6 L180.4,354.8 L180.2,355.0 L180.0,355.2 L179.7,355.4 L179.5,355.6 L179.2,355.9 L179.0,356.1 L178.8,356.3 L178.5,356.5 L178.3,356.7 L178.0,356.9 L177.8,357.1 L177.5,357.3 L177.3,357.5 L177.1,357.7 L176.9,358.0 L176.7,358.4 L176.6,358.9 L176.7,359.6 L176.8,360.5 L177.0,361.6 L177.2,362.7 L177.3,363.6 L177.2,364.4 L177.0,364.9 L176.7,365.3 L176.4,365.6 L176.1,365.8 L175.7,366.0 L175.4,366.2 L175.0,366.4 L174.6,366.5 L174.2,366.7 L173.8,366.8 L173.5,366.9 L173.1,367.1 L172.7,367.2 L172.3,367.3 L171.9,367.4 L171.5,367.5 L171.1,367.6 L170.7,367.7 L170.3,367.8 L169.9,367.8 L169.5,367.8 L169.0,367.8 L168.6,367.6 L168.2,367.3 L167.7,366.8 L167.2,366.0 L166.7,365.0 L166.2,364.0 L165.8,363.1 L165.4,362.5 L165.0,362.2 L164.7,362.0 L164.4,361.9 L164.0,361.8 L163.7,361.8 L163.4,361.7 L163.1,361.7 L162.8,361.7 L162.4,361.7 L162.1,361.7 L161.8,361.6 L161.5,361.6 L161.2,361.6 L160.8,361.6 L160.5,361.5 L160.2,361.5 L159.9,361.5 L159.6,361.4 L159.3,361.4 L158.9,361.4 L158.6,361.4 L158.3,361.5 L157.9,361.6 L157.5,361.9 L157.0,362.4 L156.5,363.2 L155.8,364.1 L155.2,365.0 L154.6,365.7 L154.0,366.2 L153.5,366.4 L153.1,366.5 L152.6,366.5 L152.2,366.4 L151.8,366.3 L151.4,366.2 L151.1,366.0 L150.7,365.9 L150.3,365.7 L149.9,365.5 L149.6,365.4 L149.2,365.2 L148.8,365.0 L148.5,364.8 L148.1,364.6 L147.8,364.4 L147.4,364.2 L147.1,364.0 L146.7,363.7 L146.4,363.5 L146.1,363.2 L145.8,362.8 L145.6,362.4 L145.5,361.9 L145.6,361.2 L145.8,360.2 L146.2,359.2 L146.5,358.1 L146.8,357.2 L147.0,356.6 L147.0,356.0 L146.9,355.7 L146.7,355.4 L146.5,355.1 L146.3,354.8 L146.1,354.6 L145.9,354.3 L145.7,354.1 L145.5,353.9 L145.3,353.6 L145.1,353.4 L144.8,353.1 L144.6,352.9 L144.4,352.7 L144.2,352.4 L144.0,352.2 L143.8,351.9 L143.6,351.7 L143.4,351.4 L143.2,351.2 L143.0,351.0 L142.7,350.8 L142.3,350.6 L141.8,350.5 L141.1,350.6 L140.2,350.7 L139.1,350.9 L138.0,351.1 L137.1,351.2 L136.3,351.1 L135.8,350.9 L135.4,350.6 L135.1,350.3 L134.9,350.0 L134.7,349.6 L134.5,349.3 L134.3,348.9 L134.2,348.5 L134.0,348.1 L133.9,347.7 L133.8,347.4 L133.6,347.0 L133.5,346.6 L133.4,346.2 L133.3,345.8 L133.2,345.4 L133.1,345.0 L133.0,344.6 L132.9,344.2 L132.9,343.8 L132.9,343.4 L132.9,342.9 L133.1,342.5 L133.4,342.1 L133.9,341.6 L134.7,341.1 L135.7,340.6 L136.7,340.1 L137.6,339.7 L138.2,339.3 L138.5,338.9 L138.7,338.6 L138.8,338.3 L138.9,337.9 L138.9,337.6 L139.0,337.3 L139.0,337.0 L139.0,336.7 L139.0,336.3 L139.0,336.0 L139.1,335.7 L139.1,335.4 L139.1,335.1 L139.1,334.7 L139.2,334.4 L139.2,334.1 L139.2,333.8 L139.3,333.5 L139.3,333.2 L139.3,332.8 L139.3,332.5 L139.2,332.2 L139.1,331.8 L138.8,331.4 L138.3,330.9 L137.5,330.4 L136.6,329.7 L135.7,329.1 L135.0,328.5 L134.5,327.9 L134.3,327.4 L134.2,327.0 L134.2,326.5 L134.3,326.1 L134.4,325.7 L134.5,325.3 L134.7,325.0 L134.8,324.6 L135.0,324.2 L135.2,323.8 L135.3,323.5 L135.5,323.1 L135.7,322.7 L135.9,322.4 L136.1,322.0 L136.3,321.7 L136.5,321.3 L136.7,321.0 L137.0,320.6 L137.2,320.3 L137.5,320.0 L137.9,319.7 L138.3,319.5 L138.8,319.4 L139.5,319.5 L140.5,319.7 L141.5,320.1 L142.6,320.4 L143.5,320.7 L144.1,320.9 L144.7,320.9 L145.0,320.8 L145.3,320.6 L145.6,320.4 L145.9,320.2 L146.1,320.0 L146.4,319.8 L146.6,319.6 L146.8,319.4 L147.1,319.2 L147.3,319.0 L147.6,318.7 L147.8,318.5 L148.0,318.3 L148.3,318.1 L148.5,317.9 L148.8,317.7 L149.0,317.5 L149.3,317.3 L149.5,317.1 L149.7,316.9 L149.9,316.6 L150.1,316.2 L150.2,315.7 L150.1,315.0 L150.0,314.1 L149.8,313.0 L149.6,311.9 L149.5,311.0 L149.6,310.2 L149.8,309.7 L150.1,309.3 L150.4,309.0 L150.7,308.8 L151.1,308.6 L151.4,308.4 L151.8,308.2 L152.2,308.1 L152.6,307.9 L153.0,307.8 L153.3,307.7 L153.7,307.5 L154.1,307.4 L154.5,307.3 L154.9,307.2 L155.3,307.1 L155.7,307.0 L156.1,306.9 L156.5,306.8 L156.9,306.8 L157.3,306.8 L157.8,306.8 L158.2,307.0 L158.6,307.3 L159.1,307.8 L159.6,308.6 L160.1,309.6 L160.6,310.6 L161.0,311.5 L161.4,312.1 L161.8,312.4 L162.1,312.6 L162.4,312.7 L162.8,312.8 L163.1,312.8Z M176.2,336.7 a13,13 0 1,0 -26,0 a13,13 0 1,0 26,0Z"/></g>
<g fill="#e4d5c7" stroke="#9c7655" stroke-width="1.25" fill-rule="evenodd"><path d="M91.3,423.5 L92.0,423.4 L92.7,423.4 L93.4,423.4 L94.1,423.5 L94.8,423.5 L95.5,423.6 L96.1,423.6 L96.8,423.7 L97.5,423.8 L98.2,423.9 L98.9,424.0 L99.6,424.1 L100.2,424.3 L100.9,424.4 L101.6,424.7 L102.2,425.0 L102.8,425.5 L103.3,426.2 L103.7,427.3 L104.0,428.8 L104.2,430.5 L104.4,432.2 L104.5,433.7 L104.8,434.7 L105.2,435.5 L105.6,436.0 L106.0,436.4 L106.5,436.7 L107.0,436.9 L107.5,437.2 L108.0,437.4 L108.5,437.6 L109.0,437.9 L109.5,438.1 L110.0,438.4 L110.5,438.6 L111.0,438.9 L111.5,439.1 L112.0,439.4 L112.5,439.7 L112.9,439.9 L113.4,440.2 L113.9,440.4 L114.4,440.7 L115.0,440.9 L115.5,441.0 L116.2,441.1 L117.0,440.9 L118.0,440.5 L119.3,439.8 L120.8,438.9 L122.3,438.1 L123.6,437.4 L124.7,437.2 L125.6,437.1 L126.4,437.3 L127.0,437.7 L127.6,438.0 L128.1,438.5 L128.7,438.9 L129.2,439.4 L129.7,439.9 L130.1,440.4 L130.6,440.9 L131.1,441.4 L131.5,441.9 L132.0,442.5 L132.4,443.0 L132.8,443.6 L133.3,444.1 L133.7,444.7 L134.1,445.2 L134.4,445.8 L134.8,446.4 L135.1,447.1 L135.3,447.7 L135.3,448.5 L135.2,449.4 L134.7,450.5 L133.9,451.7 L132.8,453.0 L131.7,454.4 L130.8,455.5 L130.3,456.5 L130.0,457.2 L129.9,457.9 L130.0,458.5 L130.1,459.0 L130.3,459.6 L130.4,460.1 L130.6,460.6 L130.8,461.1 L131.0,461.7 L131.2,462.2 L131.4,462.7 L131.5,463.2 L131.7,463.8 L131.9,464.3 L132.0,464.8 L132.2,465.3 L132.3,465.9 L132.5,466.4 L132.7,466.9 L132.8,467.5 L133.1,468.0 L133.4,468.5 L133.8,469.0 L134.5,469.5 L135.5,469.9 L136.9,470.3 L138.6,470.7 L140.2,471.2 L141.6,471.7 L142.6,472.3 L143.3,472.9 L143.6,473.6 L143.9,474.2 L144.0,474.9 L144.1,475.6 L144.1,476.3 L144.2,477.0 L144.2,477.7 L144.2,478.4 L144.1,479.1 L144.1,479.8 L144.0,480.5 L144.0,481.1 L143.9,481.8 L143.8,482.5 L143.7,483.2 L143.6,483.9 L143.5,484.6 L143.3,485.2 L143.2,485.9 L142.9,486.6 L142.6,487.2 L142.1,487.8 L141.4,488.3 L140.3,488.7 L138.8,489.0 L137.1,489.2 L135.4,489.4 L133.9,489.5 L132.9,489.8 L132.1,490.2 L131.6,490.6 L131.2,491.0 L130.9,491.5 L130.7,492.0 L130.4,492.5 L130.2,493.0 L130.0,493.5 L129.7,494.0 L129.5,494.5 L129.2,495.0 L129.0,495.5 L128.7,496.0 L128.5,496.5 L128.2,497.0 L127.9,497.5 L127.7,497.9 L127.4,498.4 L127.2,498.9 L126.9,499.4 L126.7,500.0 L126.6,500.5 L126.5,501.2 L126.7,502.0 L127.1,503.0 L127.8,504.3 L128.7,505.8 L129.5,507.3 L130.2,508.6 L130.4,509.7 L130.5,510.6 L130.3,511.4 L129.9,512.0 L129.6,512.6 L129.1,513.1 L128.7,513.7 L128.2,514.2 L127.7,514.7 L127.2,515.1 L126.7,515.6 L126.2,516.1 L125.7,516.5 L125.1,517.0 L124.6,517.4 L124.0,517.8 L123.5,518.3 L122.9,518.7 L122.4,519.1 L121.8,519.4 L121.2,519.8 L120.5,520.1 L119.9,520.3 L119.1,520.3 L118.2,520.2 L117.1,519.7 L115.9,518.9 L114.6,517.8 L113.2,516.7 L112.1,515.8 L111.1,515.3 L110.4,515.0 L109.7,514.9 L109.1,515.0 L108.6,515.1 L108.0,515.3 L107.5,515.4 L107.0,515.6 L106.5,515.8 L105.9,516.0 L105.4,516.2 L104.9,516.4 L104.4,516.5 L103.8,516.7 L103.3,516.9 L102.8,517.0 L102.3,517.2 L101.7,517.3 L101.2,517.5 L100.7,517.7 L100.1,517.8 L99.6,518.1 L99.1,518.4 L98.6,518.8 L98.1,519.5 L97.7,520.5 L97.3,521.9 L96.9,523.6 L96.4,525.2 L95.9,526.6 L95.3,527.6 L94.7,528.3 L94.0,528.6 L93.4,528.9 L92.7,529.0 L92.0,529.1 L91.3,529.1 L90.6,529.2 L89.9,529.2 L89.2,529.2 L88.5,529.1 L87.8,529.1 L87.1,529.0 L86.5,529.0 L85.8,528.9 L85.1,528.8 L84.4,528.7 L83.7,528.6 L83.0,528.5 L82.4,528.3 L81.7,528.2 L81.0,527.9 L80.4,527.6 L79.8,527.1 L79.3,526.4 L78.9,525.3 L78.6,523.8 L78.4,522.1 L78.2,520.4 L78.1,518.9 L77.8,517.9 L77.4,517.1 L77.0,516.6 L76.6,516.2 L76.1,515.9 L75.6,515.7 L75.1,515.4 L74.6,515.2 L74.1,515.0 L73.6,514.7 L73.1,514.5 L72.6,514.2 L72.1,514.0 L71.6,513.7 L71.1,513.5 L70.6,513.2 L70.1,512.9 L69.7,512.7 L69.2,512.4 L68.7,512.2 L68.2,511.9 L67.6,511.7 L67.1,511.6 L66.4,511.5 L65.6,511.7 L64.6,512.1 L63.3,512.8 L61.8,513.7 L60.3,514.5 L59.0,515.2 L57.9,515.4 L57.0,515.5 L56.2,515.3 L55.6,514.9 L55.0,514.6 L54.5,514.1 L53.9,513.7 L53.4,513.2 L52.9,512.7 L52.5,512.2 L52.0,511.7 L51.5,511.2 L51.1,510.7 L50.6,510.1 L50.2,509.6 L49.8,509.0 L49.3,508.5 L48.9,507.9 L48.5,507.4 L48.2,506.8 L47.8,506.2 L47.5,505.5 L47.3,504.9 L47.3,504.1 L47.4,503.2 L47.9,502.1 L48.7,500.9 L49.8,499.6 L50.9,498.2 L51.8,497.1 L52.3,496.1 L52.6,495.4 L52.7,494.7 L52.6,494.1 L52.5,493.6 L52.3,493.0 L52.2,492.5 L52.0,492.0 L51.8,491.5 L51.6,490.9 L51.4,490.4 L51.2,489.9 L51.1,489.4 L50.9,488.8 L50.7,488.3 L50.6,487.8 L50.4,487.3 L50.3,486.7 L50.1,486.2 L49.9,485.7 L49.8,485.1 L49.5,484.6 L49.2,484.1 L48.8,483.6 L48.1,483.1 L47.1,482.7 L45.7,482.3 L44.0,481.9 L42.4,481.4 L41.0,480.9 L40.0,480.3 L39.3,479.7 L39.0,479.0 L38.7,478.4 L38.6,477.7 L38.5,477.0 L38.5,476.3 L38.4,475.6 L38.4,474.9 L38.4,474.2 L38.5,473.5 L38.5,472.8 L38.6,472.1 L38.6,471.5 L38.7,470.8 L38.8,470.1 L38.9,469.4 L39.0,468.7 L39.1,468.0 L39.3,467.4 L39.4,466.7 L39.7,466.0 L40.0,465.4 L40.5,464.8 L41.2,464.3 L42.3,463.9 L43.8,463.6 L45.5,463.4 L47.2,463.2 L48.7,463.1 L49.7,462.8 L50.5,462.4 L51.0,462.0 L51.4,461.6 L51.7,461.1 L51.9,460.6 L52.2,460.1 L52.4,459.6 L52.6,459.1 L52.9,458.6 L53.1,458.1 L53.4,457.6 L53.6,457.1 L53.9,456.6 L54.1,456.1 L54.4,455.6 L54.7,455.1 L54.9,454.7 L55.2,454.2 L55.4,453.7 L55.7,453.2 L55.9,452.6 L56.0,452.1 L56.1,451.4 L55.9,450.6 L55.5,449.6 L54.8,448.3 L53.9,446.8 L53.1,445.3 L52.4,444.0 L52.2,442.9 L52.1,442.0 L52.3,441.2 L52.7,440.6 L53.0,440.0 L53.5,439.5 L53.9,438.9 L54.4,438.4 L54.9,437.9 L55.4,437.5 L55.9,437.0 L56.4,436.5 L56.9,436.1 L57.5,435.6 L58.0,435.2 L58.6,434.8 L59.1,434.3 L59.7,433.9 L60.2,433.5 L60.8,433.2 L61.4,432.8 L62.1,432.5 L62.7,432.3 L63.5,432.3 L64.4,432.4 L65.5,432.9 L66.7,433.7 L68.0,434.8 L69.4,435.9 L70.5,436.8 L71.5,437.3 L72.2,437.6 L72.9,437.7 L73.5,437.6 L74.0,437.5 L74.6,437.3 L75.1,437.2 L75.6,437.0 L76.1,436.8 L76.7,436.6 L77.2,436.4 L77.7,436.2 L78.2,436.1 L78.8,435.9 L79.3,435.7 L79.8,435.6 L80.3,435.4 L80.9,435.3 L81.4,435.1 L81.9,434.9 L82.5,434.8 L83.0,434.5 L83.5,434.2 L84.0,433.8 L84.5,433.1 L84.9,432.1 L85.3,430.7 L85.7,429.0 L86.2,427.4 L86.7,426.0 L87.3,425.0 L87.9,424.3 L88.6,424.0 L89.2,423.7 L89.9,423.6 L90.6,423.5Z M111.9,475.5 a21.2,21.2 0 1,0 -42.4,0 a21.2,21.2 0 1,0 42.4,0Z"/><path d="M163.4,490.4 L163.7,490.4 L164.0,490.4 L164.4,490.4 L164.7,490.4 L165.0,490.5 L165.3,490.5 L165.6,490.5 L166.0,490.5 L166.3,490.6 L166.6,490.6 L166.9,490.6 L167.2,490.7 L167.5,490.7 L167.9,490.7 L168.2,490.7 L168.5,490.6 L168.9,490.5 L169.3,490.2 L169.8,489.7 L170.3,488.9 L171.0,488.0 L171.6,487.1 L172.2,486.4 L172.8,485.9 L173.3,485.7 L173.7,485.6 L174.2,485.6 L174.6,485.7 L175.0,485.8 L175.4,485.9 L175.7,486.1 L176.1,486.2 L176.5,486.4 L176.9,486.6 L177.2,486.7 L177.6,486.9 L178.0,487.1 L178.3,487.3 L178.7,487.5 L179.0,487.7 L179.4,487.9 L179.7,488.1 L180.1,488.4 L180.4,488.6 L180.7,488.9 L181.0,489.3 L181.2,489.7 L181.3,490.2 L181.2,490.9 L181.0,491.9 L180.6,492.9 L180.3,494.0 L180.0,494.9 L179.8,495.5 L179.8,496.1 L179.9,496.4 L180.1,496.7 L180.3,497.0 L180.5,497.3 L180.7,497.5 L180.9,497.8 L181.1,498.0 L181.3,498.2 L181.5,498.5 L181.7,498.7 L182.0,499.0 L182.2,499.2 L182.4,499.4 L182.6,499.7 L182.8,499.9 L183.0,500.2 L183.2,500.4 L183.4,500.7 L183.6,500.9 L183.8,501.1 L184.1,501.3 L184.5,501.5 L185.0,501.6 L185.7,501.5 L186.6,501.4 L187.7,501.2 L188.8,501.0 L189.7,500.9 L190.5,501.0 L191.0,501.2 L191.4,501.5 L191.7,501.8 L191.9,502.1 L192.1,502.5 L192.3,502.8 L192.5,503.2 L192.6,503.6 L192.8,504.0 L192.9,504.4 L193.0,504.7 L193.2,505.1 L193.3,505.5 L193.4,505.9 L193.5,506.3 L193.6,506.7 L193.7,507.1 L193.8,507.5 L193.9,507.9 L193.9,508.3 L193.9,508.7 L193.9,509.2 L193.7,509.6 L193.4,510.0 L192.9,510.5 L192.1,511.0 L191.1,511.5 L190.1,512.0 L189.2,512.4 L188.6,512.8 L188.3,513.2 L188.1,513.5 L188.0,513.8 L187.9,514.2 L187.9,514.5 L187.8,514.8 L187.8,515.1 L187.8,515.4 L187.8,515.8 L187.8,516.1 L187.7,516.4 L187.7,516.7 L187.7,517.0 L187.7,517.4 L187.6,517.7 L187.6,518.0 L187.6,518.3 L187.5,518.6 L187.5,518.9 L187.5,519.3 L187.5,519.6 L187.6,519.9 L187.7,520.3 L188.0,520.7 L188.5,521.2 L189.3,521.7 L190.2,522.4 L191.1,523.0 L191.8,523.6 L192.3,524.2 L192.5,524.7 L192.6,525.1 L192.6,525.6 L192.5,526.0 L192.4,526.4 L192.3,526.8 L192.1,527.1 L192.0,527.5 L191.8,527.9 L191.6,528.3 L191.5,528.6 L191.3,529.0 L191.1,529.4 L190.9,529.7 L190.7,530.1 L190.5,530.4 L190.3,530.8 L190.1,531.1 L189.8,531.5 L189.6,531.8 L189.3,532.1 L188.9,532.4 L188.5,532.6 L188.0,532.7 L187.3,532.6 L186.3,532.4 L185.3,532.0 L184.2,531.7 L183.3,531.4 L182.7,531.2 L182.1,531.2 L181.8,531.3 L181.5,531.5 L181.2,531.7 L180.9,531.9 L180.7,532.1 L180.4,532.3 L180.2,532.5 L180.0,532.7 L179.7,532.9 L179.5,533.1 L179.2,533.4 L179.0,533.6 L178.8,533.8 L178.5,534.0 L178.3,534.2 L178.0,534.4 L177.8,534.6 L177.5,534.8 L177.3,535.0 L177.1,535.2 L176.9,535.5 L176.7,535.9 L176.6,536.4 L176.7,537.1 L176.8,538.0 L177.0,539.1 L177.2,540.2 L177.3,541.1 L177.2,541.9 L177.0,542.4 L176.7,542.8 L176.4,543.1 L176.1,543.3 L175.7,543.5 L175.4,543.7 L175.0,543.9 L174.6,544.0 L174.2,544.2 L173.8,544.3 L173.5,544.4 L173.1,544.6 L172.7,544.7 L172.3,544.8 L171.9,544.9 L171.5,545.0 L171.1,545.1 L170.7,545.2 L170.3,545.3 L169.9,545.3 L169.5,545.3 L169.0,545.3 L168.6,545.1 L168.2,544.8 L167.7,544.3 L167.2,543.5 L166.7,542.5 L166.2,541.5 L165.8,540.6 L165.4,540.0 L165.0,539.7 L164.7,539.5 L164.4,539.4 L164.0,539.3 L163.7,539.3 L163.4,539.2 L163.1,539.2 L162.8,539.2 L162.4,539.2 L162.1,539.2 L161.8,539.1 L161.5,539.1 L161.2,539.1 L160.8,539.1 L160.5,539.0 L160.2,539.0 L159.9,539.0 L159.6,538.9 L159.3,538.9 L158.9,538.9 L158.6,538.9 L158.3,539.0 L157.9,539.1 L157.5,539.4 L157.0,539.9 L156.5,540.7 L155.8,541.6 L155.2,542.5 L154.6,543.2 L154.0,543.7 L153.5,543.9 L153.1,544.0 L152.6,544.0 L152.2,543.9 L151.8,543.8 L151.4,543.7 L151.1,543.5 L150.7,543.4 L150.3,543.2 L149.9,543.0 L149.6,542.9 L149.2,542.7 L148.8,542.5 L148.5,542.3 L148.1,542.1 L147.8,541.9 L147.4,541.7 L147.1,541.5 L146.7,541.2 L146.4,541.0 L146.1,540.7 L145.8,540.3 L145.6,539.9 L145.5,539.4 L145.6,538.7 L145.8,537.7 L146.2,536.7 L146.5,535.6 L146.8,534.7 L147.0,534.1 L147.0,533.5 L146.9,533.2 L146.7,532.9 L146.5,532.6 L146.3,532.3 L146.1,532.1 L145.9,531.8 L145.7,531.6 L145.5,531.4 L145.3,531.1 L145.1,530.9 L144.8,530.6 L144.6,530.4 L144.4,530.2 L144.2,529.9 L144.0,529.7 L143.8,529.4 L143.6,529.2 L143.4,528.9 L143.2,528.7 L143.0,528.5 L142.7,528.3 L142.3,528.1 L141.8,528.0 L141.1,528.1 L140.2,528.2 L139.1,528.4 L138.0,528.6 L137.1,528.7 L136.3,528.6 L135.8,528.4 L135.4,528.1 L135.1,527.8 L134.9,527.5 L134.7,527.1 L134.5,526.8 L134.3,526.4 L134.2,526.0 L134.0,525.6 L133.9,525.2 L133.8,524.9 L133.6,524.5 L133.5,524.1 L133.4,523.7 L133.3,523.3 L133.2,522.9 L133.1,522.5 L133.0,522.1 L132.9,521.7 L132.9,521.3 L132.9,520.9 L132.9,520.4 L133.1,520.0 L133.4,519.6 L133.9,519.1 L134.7,518.6 L135.7,518.1 L136.7,517.6 L137.6,517.2 L138.2,516.8 L138.5,516.4 L138.7,516.1 L138.8,515.8 L138.9,515.4 L138.9,515.1 L139.0,514.8 L139.0,514.5 L139.0,514.2 L139.0,513.8 L139.0,513.5 L139.1,513.2 L139.1,512.9 L139.1,512.6 L139.1,512.2 L139.2,511.9 L139.2,511.6 L139.2,511.3 L139.3,511.0 L139.3,510.7 L139.3,510.3 L139.3,510.0 L139.2,509.7 L139.1,509.3 L138.8,508.9 L138.3,508.4 L137.5,507.9 L136.6,507.2 L135.7,506.6 L135.0,506.0 L134.5,505.4 L134.3,504.9 L134.2,504.5 L134.2,504.0 L134.3,503.6 L134.4,503.2 L134.5,502.8 L134.7,502.5 L134.8,502.1 L135.0,501.7 L135.2,501.3 L135.3,501.0 L135.5,500.6 L135.7,500.2 L135.9,499.9 L136.1,499.5 L136.3,499.2 L136.5,498.8 L136.7,498.5 L137.0,498.1 L137.2,497.8 L137.5,497.5 L137.9,497.2 L138.3,497.0 L138.8,496.9 L139.5,497.0 L140.5,497.2 L141.5,497.6 L142.6,497.9 L143.5,498.2 L144.1,498.4 L144.7,498.4 L145.0,498.3 L145.3,498.1 L145.6,497.9 L145.9,497.7 L146.1,497.5 L146.4,497.3 L146.6,497.1 L146.8,496.9 L147.1,496.7 L147.3,496.5 L147.6,496.2 L147.8,496.0 L148.0,495.8 L148.3,495.6 L148.5,495.4 L148.8,495.2 L149.0,495.0 L149.3,494.8 L149.5,494.6 L149.7,494.4 L149.9,494.1 L150.1,493.7 L150.2,493.2 L150.1,492.5 L150.0,491.6 L149.8,490.5 L149.6,489.4 L149.5,488.5 L149.6,487.7 L149.8,487.2 L150.1,486.8 L150.4,486.5 L150.7,486.3 L151.1,486.1 L151.4,485.9 L151.8,485.7 L152.2,485.6 L152.6,485.4 L153.0,485.3 L153.3,485.2 L153.7,485.0 L154.1,484.9 L154.5,484.8 L154.9,484.7 L155.3,484.6 L155.7,484.5 L156.1,484.4 L156.5,484.3 L156.9,484.3 L157.3,484.3 L157.8,484.3 L158.2,484.5 L158.6,484.8 L159.1,485.3 L159.6,486.1 L160.1,487.1 L160.6,488.1 L161.0,489.0 L161.4,489.6 L161.8,489.9 L162.1,490.1 L162.4,490.2 L162.8,490.3 L163.1,490.3Z M176.2,514.2 a13,13 0 1,0 -26,0 a13,13 0 1,0 26,0Z"/></g>
<!-- labels -->
<text class="b" x="69.1" y="163.3" font-size="26.6" textLength="95.2" lengthAdjust="spacingAndGlyphs">USAGE</text>
<text class="b" x="20.8" y="312.3" font-size="25.8" textLength="190.6" lengthAdjust="spacingAndGlyphs">CONCEPTION</text>
<text class="b" x="25.2" y="471.3" font-size="25.8" textLength="182.6" lengthAdjust="spacingAndGlyphs">CONDITIONS</text>
<text class="b" x="47.8" y="505.2" font-size="25.8" textLength="138" lengthAdjust="spacingAndGlyphs">FIN DE VIE</text>
<text class="b" x="855.5" y="413.3" font-size="25.8" textLength="138.6" lengthAdjust="spacingAndGlyphs">FIN DE VIE</text>
<text class="b b2" x="1228.3" y="422.55" font-size="35.3" textLength="134.6" lengthAdjust="spacingAndGlyphs">Impact</text>
<text class="b b2" x="1133.6" y="465.5" font-size="35.3" textLength="323.6" lengthAdjust="spacingAndGlyphs">environnemental</text>
<text x="26.8" y="716.2" font-size="14.6" fill="#c6c6c6" textLength="161.4" lengthAdjust="spacingAndGlyphs">credits : CEA - meaicon</text>

<!-- arrows -->
<path fill="#3f4b87" d="M223,154.10 H342.5 V144.05 L368.8,157.8 L342.5,171.55 V161.50 H223Z"/>
<path fill="#3f4b87" d="M223,311.50 H342.5 V301.45 L368.8,315.2 L342.5,328.95 V318.90 H223Z"/>
<path fill="#3f4b87" d="M671.1,329.50 H791.1 V319.45 L817.1,333.2 L791.1,346.95 V336.90 H671.1Z"/>
<path fill="#3eacb5" d="M1010,329.50 H1130.1 V319.45 L1156.8,333.2 L1130.1,346.95 V336.90 H1010Z"/>
<path fill="none" stroke="#3f4b87" stroke-width="5.9" d="M115.9,551 V625 A25,25 0 0 0 140.9,650 H907.4 A26,26 0 0 0 933.4,624 V457"/>
<path fill="#3f4b87" d="M919.6,458.2 L932.9,431.8 L946.9,458.2Z"/>
<!-- battery -->
<rect x="461" y="39.2" width="118.4" height="45" rx="10" fill="url(#bat)"/>
<rect x="390" y="72.8" width="260.3" height="530" rx="8.5" fill="url(#bat)"/>

<!-- car -->
<g transform="translate(435,80) scale(0.14308)" fill="#3e4a85" stroke="#ffffff" stroke-width="7.5" fill-rule="evenodd" stroke-linejoin="round">
<path d="M179,570 H130 Q80,555 80,490 V345 Q85,270 140,195 Q215,95 310,78 Q460,68 620,74 Q665,82 740,130 Q820,195 890,260 Q1000,290 1080,312 Q1135,335 1138,400 Q1135,480 1112,525 Q1090,562 1042,570 A137,137 0 0 1 774,570 H447 A137,137 0 0 1 179,570Z
M388,540 A75,75 0 1 0 238,540 A75,75 0 1 0 388,540Z M983,540 A75,75 0 1 0 833,540 A75,75 0 1 0 983,540Z
M195,268 Q250,185 340,150 H440 Q455,200 465,268 Q460,285 440,285 H212 Q192,285 195,268Z
M500,152 H620 Q690,175 785,265 Q790,285 765,285 H537 Q518,282 513,262 Q500,200 495,160Z"/>
</g>

<!-- bolt -->
<path d="M543.4,179.1 L528.8,239.7 L555.4,245.1 L498.3,318.1 L515.7,259.3 L489.2,253.9Z" fill="url(#boltg)" stroke="#fff" stroke-width="1.2" stroke-linejoin="miter"/>
<path d="M543.4,179.1 L528.8,239.7 L555.4,245.1 L498.3,318.1 L515.7,259.3 L489.2,253.9Z" fill="url(#bolth)"/>

<!-- flame -->
<g transform="translate(405,305) scale(0.19077)"><path d="M305.0,65.0 C318.3,64.3 316.7,61.7 315.0,80.0 C313.3,98.3 305.0,90.0 300.0,120.0 C295.0,150.0 293.3,136.7 300.0,170.0 C306.7,203.3 303.3,188.3 320.0,220.0 C336.7,251.7 333.3,243.3 350.0,265.0 C366.7,286.7 360.0,286.7 370.0,285.0 C380.0,283.3 377.3,280.0 380.0,260.0 C382.7,240.0 381.3,246.7 378.0,225.0 C374.7,203.3 367.7,208.3 370.0,195.0 C372.3,181.7 371.7,181.7 385.0,185.0 C398.3,188.3 393.3,183.3 410.0,205.0 C426.7,226.7 422.3,215.0 435.0,250.0 C447.7,285.0 446.3,271.7 448.0,310.0 C449.7,348.3 449.3,335.0 440.0,365.0 C430.7,395.0 430.7,383.3 420.0,400.0 C409.3,416.7 406.3,405.7 408.0,415.0 C409.7,424.3 409.3,424.7 425.0,428.0 C440.7,431.3 436.7,436.0 455.0,425.0 C473.3,414.0 469.0,418.3 480.0,395.0 C491.0,371.7 484.7,376.7 488.0,355.0 C491.3,333.3 482.7,333.3 490.0,330.0 C497.3,326.7 496.7,321.7 510.0,345.0 C523.3,368.3 521.7,361.7 530.0,400.0 C538.3,438.3 538.3,413.3 535.0,460.0 C531.7,506.7 538.3,490.0 520.0,540.0 C501.7,590.0 513.3,570.0 480.0,610.0 C446.7,650.0 463.3,634.0 420.0,660.0 C376.7,686.0 393.3,677.3 350.0,688.0 C306.7,698.7 333.3,694.7 290.0,692.0 C246.7,689.3 266.7,697.3 220.0,680.0 C173.3,662.7 191.7,673.3 150.0,640.0 C108.3,606.7 125.7,626.7 95.0,580.0 C64.3,533.3 73.7,553.3 58.0,500.0 C42.3,446.7 45.7,473.3 48.0,420.0 C50.3,366.7 49.3,385.0 65.0,340.0 C80.7,295.0 75.0,312.7 95.0,285.0 C115.0,257.3 111.7,263.7 125.0,257.0 C138.3,250.3 134.0,250.7 135.0,265.0 C136.0,279.3 128.0,273.3 128.0,300.0 C128.0,326.7 124.3,316.7 135.0,345.0 C145.7,373.3 140.0,365.0 160.0,385.0 C180.0,405.0 173.3,401.7 195.0,405.0 C216.7,408.3 211.7,410.0 225.0,395.0 C238.3,380.0 233.3,385.0 235.0,360.0 C236.7,335.0 236.7,350.0 230.0,320.0 C223.3,290.0 222.3,303.3 215.0,270.0 C207.7,236.7 208.0,253.3 208.0,220.0 C208.0,186.7 204.3,203.3 215.0,170.0 C225.7,136.7 220.0,149.3 240.0,120.0 C260.0,90.7 253.3,100.3 275.0,82.0 C296.7,63.7 291.7,65.7 305.0,65.0Z" fill="#ffc72c" stroke="#fff" stroke-width="7"/></g>
<g transform="translate(405,305) scale(0.19077)"><path fill="url(#fire)" d="M190,590 C185,540 200,500 215,478 C220,510 235,530 255,520 C250,480 255,450 275,430 C285,460 310,480 325,500 C335,480 335,465 340,450 C360,475 365,500 360,530 C372,530 380,522 385,512 C400,550 400,600 375,630 C350,660 300,665 260,655 C215,640 192,620 190,590Z"/></g>
<!-- snowflake -->
<path d="M581.1,376.5 L581.1,325.5 M581.1,343.0 L565.9,334.2 M581.1,343.0 L596.3,334.2 M581.1,376.5 L625.3,351.0 M610.1,359.8 L610.1,342.2 M610.1,359.8 L625.3,368.5 M581.1,376.5 L625.3,402.0 M610.1,393.2 L625.3,384.5 M610.1,393.2 L610.1,410.8 M581.1,376.5 L581.1,427.5 M581.1,410.0 L596.3,418.8 M581.1,410.0 L565.9,418.8 M581.1,376.5 L536.9,402.0 M552.1,393.2 L552.1,410.8 M552.1,393.2 L536.9,384.5 M581.1,376.5 L536.9,351.0 M552.1,359.8 L536.9,368.5 M552.1,359.8 L552.1,342.2" stroke="#fff" stroke-width="11" stroke-linecap="round" fill="none"/>
<polygon points="581.1,361.0 594.5,368.8 594.5,384.2 581.1,392.0 567.7,384.2 567.7,368.8" fill="#fff" stroke="#fff" stroke-width="4" stroke-linejoin="round"/>
<path d="M581.1,376.5 L581.1,325.5 M581.1,343.0 L565.9,334.2 M581.1,343.0 L596.3,334.2 M581.1,376.5 L625.3,351.0 M610.1,359.8 L610.1,342.2 M610.1,359.8 L625.3,368.5 M581.1,376.5 L625.3,402.0 M610.1,393.2 L625.3,384.5 M610.1,393.2 L610.1,410.8 M581.1,376.5 L581.1,427.5 M581.1,410.0 L596.3,418.8 M581.1,410.0 L565.9,418.8 M581.1,376.5 L536.9,402.0 M552.1,393.2 L552.1,410.8 M552.1,393.2 L536.9,384.5 M581.1,376.5 L536.9,351.0 M552.1,359.8 L536.9,368.5 M552.1,359.8 L552.1,342.2" stroke="url(#snow)" stroke-width="8.6" stroke-linecap="round" fill="none"/>
<polygon points="581.1,361.0 594.5,368.8 594.5,384.2 581.1,392.0 567.7,384.2 567.7,368.8" fill="url(#snow)" stroke="url(#snow)" stroke-width="2" stroke-linejoin="round"/>
<!-- clock -->
<clipPath id="clk"><path clip-rule="evenodd" d="M400,440H640V600H400Z M559.1,520.5 a37.1,37.1 0 1,0 -74.2,0 a37.1,37.1 0 1,0 74.2,0Z"/></clipPath>
<g clip-path="url(#clk)">
<g fill="#fff" stroke="#fff" stroke-width="1.7">
<circle cx="488.4" cy="484.8" r="17.4"/>
<circle cx="555.8" cy="484.8" r="17.4"/>
<circle cx="522" cy="520.5" r="50.1"/>
</g>
<path d="M499.5,561.7 L493.3,571.6 M545,561.7 L551.4,571.6" stroke="#fff" stroke-width="12.7" stroke-linecap="round" fill="none"/>
<path d="M499.5,561.7 L493.3,571.6 M545,561.7 L551.4,571.6" stroke="#8a0068" stroke-width="11" stroke-linecap="round" fill="none"/>
<g fill="#8a0068">
<circle cx="488.4" cy="484.8" r="17.4"/>
<circle cx="555.8" cy="484.8" r="17.4"/>
<circle cx="522" cy="520.5" r="50.1"/>
</g>
</g>
<circle cx="522" cy="520.5" r="36.9" fill="none" stroke="#fff" stroke-width="0.9"/>
<path d="M518.8,494.5 V522.7 H546.4" fill="none" stroke="#fff" stroke-width="8" stroke-linecap="round" stroke-linejoin="round"/>
<path d="M518.8,494.5 V522.7 H546.4" fill="none" stroke="#8a0068" stroke-width="6.4" stroke-linecap="round" stroke-linejoin="round"/>

<!-- hourglass -->
<g fill="#936a47">
<rect x="868.1" y="249.2" width="112.7" height="13.8" rx="6.9"/>
<rect x="868.1" y="367.9" width="112.7" height="14.8" rx="7.4"/>
</g>
<path d="M884.5,258 V276 Q884.5,297 904,307 Q916.5,313 910,322 Q905,326 898,330 Q884.5,340 884.5,359 V372 M965.5,258 V276 Q965.5,297 946,307 Q933.5,313 940,322 Q945,326 952,330 Q965.5,340 965.5,359 V372" fill="none" stroke="#936a47" stroke-width="7.8"/>
<path d="M896.6,281.1 Q910,280 922,284 Q936,288 950.5,286.3 Q946,296 936,300 Q929,304 925,310.6 Q920,304 913,300 Q901,294 896.6,281.1Z" fill="#936a47"/>
<path d="M893,370 C903,352 911,341.2 924,341.2 C937,341.2 947,352 958,370Z" fill="#936a47"/>

<!-- globe -->
<circle cx="1290.2" cy="288.7" r="99.7" fill="#0595a0"/>

<g transform="translate(1180,180) scale(0.29976)" fill="#cfe9ec"><path d="M78.0,235.0 C87.3,224.3 81.0,225.7 100.0,218.0 C119.0,210.3 118.3,211.3 135.0,212.0 C151.7,212.7 136.7,220.0 150.0,220.0 C163.3,220.0 160.0,221.3 175.0,212.0 C190.0,202.7 183.3,200.0 195.0,192.0 C206.7,184.0 202.3,183.7 210.0,188.0 C217.7,192.3 208.0,195.0 218.0,205.0 C228.0,215.0 225.3,215.3 240.0,218.0 C254.7,220.7 251.3,207.3 262.0,213.0 C272.7,218.7 270.0,218.7 272.0,235.0 C274.0,251.3 275.3,245.3 268.0,262.0 C260.7,278.7 262.7,273.0 250.0,285.0 C237.3,297.0 241.7,286.3 230.0,298.0 C218.3,309.7 225.0,302.7 215.0,320.0 C205.0,337.3 208.3,336.7 200.0,350.0 C191.7,363.3 200.0,356.7 190.0,360.0 C180.0,363.3 181.0,355.0 170.0,360.0 C159.0,365.0 160.3,363.3 157.0,375.0 C153.7,386.7 154.0,384.0 160.0,395.0 C166.0,406.0 163.3,403.0 175.0,408.0 C186.7,413.0 181.7,406.0 195.0,410.0 C208.3,414.0 201.7,414.0 215.0,420.0 C228.3,426.0 219.3,429.7 235.0,428.0 C250.7,426.3 243.7,418.3 262.0,415.0 C280.3,411.7 274.0,413.7 290.0,418.0 C306.0,422.3 296.7,425.7 310.0,428.0 C323.3,430.3 316.7,421.0 330.0,425.0 C343.3,429.0 335.0,436.0 350.0,440.0 C365.0,444.0 360.0,434.3 375.0,437.0 C390.0,439.7 386.0,438.7 395.0,448.0 C404.0,457.3 403.7,451.0 402.0,465.0 C400.3,479.0 394.7,473.3 390.0,490.0 C385.3,506.7 392.0,498.3 388.0,515.0 C384.0,531.7 380.7,523.3 378.0,540.0 C375.3,556.7 386.0,548.3 380.0,565.0 C374.0,581.7 370.0,575.0 360.0,590.0 C350.0,605.0 350.7,593.3 350.0,610.0 C349.3,626.7 356.3,625.0 358.0,640.0 C359.7,655.0 361.0,649.0 355.0,655.0 C349.0,661.0 350.0,660.3 340.0,658.0 C330.0,655.7 333.3,660.7 325.0,648.0 C316.7,635.3 320.7,642.7 315.0,620.0 C309.3,597.3 314.7,605.0 308.0,580.0 C301.3,555.0 306.0,565.0 295.0,545.0 C284.0,525.0 291.7,533.3 275.0,520.0 C258.3,506.7 260.0,516.7 245.0,505.0 C230.0,493.3 234.3,499.3 230.0,485.0 C225.7,470.7 235.3,477.0 232.0,462.0 C228.7,447.0 230.7,450.7 220.0,440.0 C209.3,429.3 213.3,432.7 200.0,430.0 C186.7,427.3 196.7,437.0 180.0,432.0 C163.3,427.0 170.0,427.3 150.0,415.0 C130.0,402.7 138.3,408.3 120.0,395.0 C101.7,381.7 111.7,390.0 95.0,375.0 C78.3,360.0 79.0,365.0 70.0,350.0 C61.0,335.0 66.3,343.3 68.0,330.0 C69.7,316.7 75.0,326.7 75.0,310.0 C75.0,293.3 69.0,300.0 68.0,280.0 C67.0,260.0 68.7,265.0 72.0,250.0 C75.3,235.0 68.7,245.7 78.0,235.0Z"/><path d="M222.0,120.0 C228.0,110.7 224.0,110.7 240.0,100.0 C256.0,89.3 250.0,93.7 270.0,88.0 C290.0,82.3 282.7,84.0 300.0,83.0 C317.3,82.0 313.7,79.3 322.0,85.0 C330.3,90.7 327.3,88.3 325.0,100.0 C322.7,111.7 323.3,106.7 315.0,120.0 C306.7,133.3 310.7,130.0 300.0,140.0 C289.3,150.0 292.3,140.0 283.0,150.0 C273.7,160.0 279.0,161.7 272.0,170.0 C265.0,178.3 268.7,178.3 262.0,175.0 C255.3,171.7 254.3,171.7 252.0,160.0 C249.7,148.3 259.0,150.0 255.0,140.0 C251.0,130.0 251.0,134.0 240.0,130.0 C229.0,126.0 228.0,131.3 222.0,128.0 C216.0,124.7 216.0,129.3 222.0,120.0Z"/></g>
<g transform="translate(1280,190) scale(0.20442)"><path d="M75.0,300.0 C73.3,288.3 71.7,292.0 80.0,283.0 C88.3,274.0 91.7,284.0 100.0,273.0 C108.3,262.0 99.0,269.3 105.0,250.0 C111.0,230.7 114.7,236.7 118.0,215.0 C121.3,193.3 111.0,206.7 115.0,185.0 C119.0,163.3 118.3,171.7 130.0,150.0 C141.7,128.3 134.0,135.7 150.0,120.0 C166.0,104.3 161.3,108.0 178.0,103.0 C194.7,98.0 184.3,99.3 200.0,105.0 C215.7,110.7 206.7,116.7 225.0,120.0 C243.3,123.3 238.3,120.0 255.0,115.0 C271.7,110.0 263.3,113.3 275.0,105.0 C286.7,96.7 268.3,80.0 290.0,90.0 C311.7,100.0 306.7,103.3 340.0,135.0 C373.3,166.7 360.0,151.7 390.0,185.0 C420.0,218.3 405.0,200.7 430.0,235.0 C455.0,269.3 460.0,259.7 465.0,288.0 C470.0,316.3 453.3,301.0 445.0,320.0 C436.7,339.0 446.7,328.3 440.0,345.0 C433.3,361.7 436.7,357.7 425.0,370.0 C413.3,382.3 403.3,373.7 405.0,382.0 C406.7,390.3 421.0,384.0 430.0,395.0 C439.0,406.0 435.3,400.0 432.0,415.0 C428.7,430.0 430.7,421.7 420.0,440.0 C409.3,458.3 408.3,450.0 400.0,470.0 C391.7,490.0 393.3,480.0 395.0,500.0 C396.7,520.0 401.7,510.0 405.0,530.0 C408.3,550.0 410.0,540.0 405.0,560.0 C400.0,580.0 396.7,570.0 390.0,590.0 C383.3,610.0 391.7,598.3 385.0,620.0 C378.3,641.7 381.7,636.7 370.0,655.0 C358.3,673.3 365.0,668.3 350.0,675.0 C335.0,681.7 338.3,681.7 325.0,675.0 C311.7,668.3 316.7,670.0 310.0,655.0 C303.3,640.0 313.3,643.3 305.0,630.0 C296.7,616.7 296.7,625.0 285.0,615.0 C273.3,605.0 273.3,615.0 270.0,600.0 C266.7,585.0 275.7,588.3 275.0,570.0 C274.3,551.7 278.0,561.7 268.0,545.0 C258.0,528.3 256.0,536.7 245.0,520.0 C234.0,503.3 245.0,509.0 235.0,495.0 C225.0,481.0 230.0,484.7 215.0,478.0 C200.0,471.3 205.0,469.3 190.0,475.0 C175.0,480.7 186.7,486.7 170.0,495.0 C153.3,503.3 160.0,503.3 140.0,500.0 C120.0,496.7 128.3,500.0 110.0,485.0 C91.7,470.0 98.3,475.0 85.0,455.0 C71.7,435.0 71.7,445.0 70.0,425.0 C68.3,405.0 70.0,413.3 80.0,395.0 C90.0,376.7 94.0,385.7 100.0,370.0 C106.0,354.3 91.3,358.7 98.0,348.0 C104.7,337.3 107.7,350.0 120.0,338.0 C132.3,326.0 121.7,324.7 135.0,312.0 C148.3,299.3 143.3,304.0 160.0,300.0 C176.7,296.0 175.0,293.3 185.0,300.0 C195.0,306.7 176.7,311.7 190.0,320.0 C203.3,328.3 200.0,327.7 225.0,325.0 C250.0,322.3 241.7,320.3 265.0,312.0 C288.3,303.7 282.7,309.0 295.0,300.0 C307.3,291.0 302.0,294.3 302.0,285.0 C302.0,275.7 307.3,273.7 295.0,272.0 C282.7,270.3 281.7,280.7 265.0,280.0 C248.3,279.3 258.3,271.7 245.0,270.0 C231.7,268.3 240.0,277.7 225.0,275.0 C210.0,272.3 215.0,271.0 200.0,262.0 C185.0,253.0 191.7,246.0 180.0,248.0 C168.3,250.0 178.3,259.0 165.0,268.0 C151.7,277.0 153.3,266.0 140.0,275.0 C126.7,284.0 135.0,280.7 125.0,295.0 C115.0,309.3 123.3,310.3 110.0,318.0 C96.7,325.7 96.7,324.0 85.0,318.0 C73.3,312.0 76.7,311.7 75.0,300.0Z" fill="#cfe9ec"/><path d="M305.0,322.0 C312.3,318.0 311.7,314.7 325.0,318.0 C338.3,321.3 333.3,318.7 345.0,332.0 C356.7,345.3 346.7,343.3 360.0,358.0 C373.3,372.7 369.0,368.0 385.0,376.0 C401.0,384.0 393.0,376.3 408.0,382.0 C423.0,387.7 424.3,387.0 430.0,393.0 C435.7,399.0 435.0,398.3 425.0,400.0 C415.0,401.7 418.3,402.0 400.0,398.0 C381.7,394.0 388.3,397.3 370.0,388.0 C351.7,378.7 358.3,383.3 345.0,370.0 C331.7,356.7 341.7,358.0 330.0,348.0 C318.3,338.0 319.0,346.0 310.0,340.0 C301.0,334.0 304.7,336.0 303.0,330.0 C301.3,324.0 297.7,326.0 305.0,322.0Z" fill="#0595a0" stroke="#0595a0" stroke-width="4"/><path d="M378.0,288.0 C383.7,287.0 382.7,286.7 395.0,290.0 C407.3,293.3 398.3,297.0 415.0,298.0 C431.7,299.0 428.3,296.3 445.0,293.0 C461.7,289.7 459.3,287.0 465.0,288.0 C470.7,289.0 470.3,290.3 462.0,296.0 C453.7,301.7 457.3,300.3 440.0,305.0 C422.7,309.7 426.7,310.7 410.0,310.0 C393.3,309.3 400.7,308.7 390.0,303.0 C379.3,297.3 382.0,298.0 378.0,293.0 C374.0,288.0 372.3,289.0 378.0,288.0Z" fill="#0595a0" stroke="#0595a0" stroke-width="3"/></g>
</svg></body></html>
